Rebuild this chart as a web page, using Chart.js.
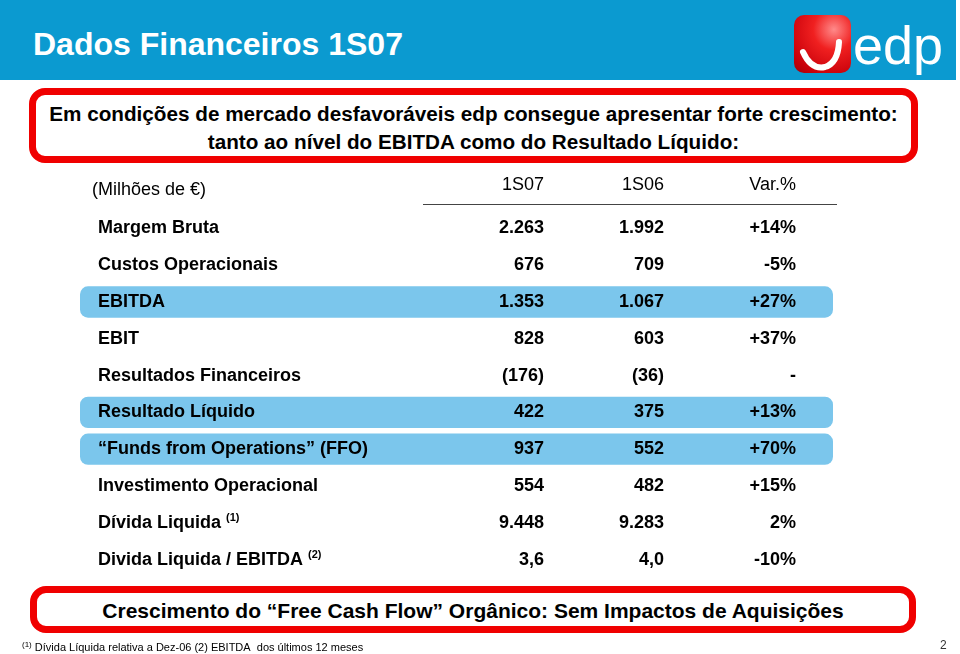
<!DOCTYPE html>
<html>
<head>
<meta charset="utf-8">
<script src="https://cdn.jsdelivr.net/npm/chart.js@4.4.0/dist/chart.umd.min.js"></script>
<style>
	body { margin: 0; background: #fff; font-family: "Liberation Sans", Arial, sans-serif; }
	#page { position: relative; width: 960px; height: 654px; overflow: hidden; }
	#mycanvas { position: absolute; left: 0; top: 0; }
	.t { position: absolute; line-height: 0; white-space: nowrap; }
	.topbar { position: absolute; left: 0; top: 0; width: 956px; height: 80px; background: #0B9AD0; }
	.box { position: absolute; box-sizing: border-box; border: 7px solid #F00000; border-radius: 16px; background: #fff; }
	.logo { position: absolute; left: 794px; top: 15px; width: 57px; height: 58px; border-radius: 10px;
		background: radial-gradient(circle at 70% 25%, #ff8a8a 0%, #f02020 35%, #c8000a 80%, #a00008 100%); }
	sup { font-size: 8px; vertical-align: 0; position: relative; top: -4px; }
</style>
</head>
<body>
<div id="page">
	<canvas id="mycanvas" width="960" height="654"></canvas>

	<div class="topbar"></div>
	<div class="t" style="left:33px;top:44px;color:#fff;font-weight:bold;font-size:32px;">Dados Financeiros 1S07</div>
	<div class="logo"></div>
	<svg style="position:absolute;left:0;top:0" width="960" height="80">
		<path d="M803 52 Q811 70 825 67 Q838 63 839 42" fill="none" stroke="#fff" stroke-width="6" stroke-linecap="round"/>
	</svg>
	<div class="t" style="left:853px;top:45px;color:#fff;font-size:54px;">edp</div>

	<div class="box" style="left:29px;top:88px;width:889px;height:75px;"></div>
	<div class="t" style="left:29px;width:889px;text-align:center;top:114px;font-weight:bold;font-size:20.7px;">Em condições de mercado desfavoráveis edp consegue apresentar forte crescimento:</div>
	<div class="t" style="left:29px;width:889px;text-align:center;top:142px;font-weight:bold;font-size:20.7px;">tanto ao nível do EBITDA como do Resultado Líquido:</div>

	<div class="box" style="left:30px;top:586px;width:886px;height:47px;"></div>
	<div class="t" style="left:30px;width:886px;text-align:center;top:611px;font-weight:bold;font-size:21px;">Crescimento do “Free Cash Flow” Orgânico: Sem Impactos de Aquisições</div>

	<div class="t" style="left:22px;top:647px;font-size:11px;"><sup>(1)</sup> Dívida Líquida relativa a Dez-06 (2) EBITDA&nbsp; dos últimos 12 meses</div>
	<div class="t" style="left:940px;top:645px;font-size:12px;color:#333;">2</div>
</div>

<script>
// linhas da tabela (Milhões de €)
var rowLabels = ['Margem Bruta', 'Custos Operacionais', 'EBITDA', 'EBIT', 'Resultados Financeiros',
	'Resultado Líquido', '“Funds from Operations” (FFO)', 'Investimento Operacional',
	'Dívida Liquida', 'Divida Liquida / EBITDA'];
var rowNotes = ['', '', '', '', '', '', '', '', '(1)', '(2)'];
var columnLabels = ['1S07', '1S06', 'Var.%'];
var values1S07 = [2263, 676, 1353, 828, -176, 422, 937, 554, 9448, 3.6];
var values1S06 = [1992, 709, 1067, 603, -36, 375, 552, 482, 9283, 4.0];
var varLabels = ['+14%', '-5%', '+27%', '+37%', '-', '+13%', '+70%', '+15%', '2%', '-10%'];
var highlightRows = ['EBITDA', 'Resultado Líquido', '“Funds from Operations” (FFO)'];
var unitLabel = '(Milhões de €)';

function fmt(v, i) {
	var dec = (i == rowLabels.length - 1) ? 1 : 0;
	var s = Math.abs(v).toLocaleString('de-DE', {minimumFractionDigits: dec, maximumFractionDigits: dec});
	return v < 0 ? '(' + s + ')' : s;
}

var colRight = [544, 664, 796];
var font = '"Liberation Sans", Arial, sans-serif';

var tablePlugin = {
	id: 'tableText',
	afterDatasetsDraw: function(chart) {
		var ctx = chart.ctx;
		var y = chart.scales.y;
		ctx.save();
		ctx.fillStyle = '#000';
		ctx.textBaseline = 'middle';

		// cabeçalho
		ctx.font = '18px ' + font;
		ctx.textAlign = 'left';
		ctx.fillText(unitLabel, 92, 190);
		ctx.textAlign = 'right';
		for (var c = 0; c < columnLabels.length; c++) {
			ctx.fillText(columnLabels[c], colRight[c], 185);
		}
		ctx.strokeStyle = '#444';
		ctx.lineWidth = 1;
		ctx.beginPath();
		ctx.moveTo(423, 204.5);
		ctx.lineTo(837, 204.5);
		ctx.stroke();

		for (var i = 0; i < rowLabels.length; i++) {
			var py = y.getPixelForValue(i);
			ctx.font = 'bold 18px ' + font;
			ctx.textAlign = 'left';
			ctx.fillText(rowLabels[i], 98, py);
			if (rowNotes[i]) {
				var w = ctx.measureText(rowLabels[i] + ' ').width;
				ctx.font = 'bold 11px ' + font;
				ctx.fillText(rowNotes[i], 98 + w, py - 5);
				ctx.font = 'bold 18px ' + font;
			}
			ctx.textAlign = 'right';
			ctx.fillText(fmt(values1S07[i], i), colRight[0], py);
			ctx.fillText(fmt(values1S06[i], i), colRight[1], py);
			ctx.fillText(varLabels[i], colRight[2], py);
		}
		ctx.restore();
	}
};

var ctx = document.getElementById('mycanvas');
var tableChart = new Chart(ctx, {
	type: 'bar',
	data: {
		labels: rowLabels,
		datasets: [{
			data: rowLabels.map(function(r) { return highlightRows.indexOf(r) >= 0 ? [0, 1] : null; }),
			backgroundColor: '#7BC6EC',
			borderRadius: 8,
			borderSkipped: false,
			barPercentage: 0.85,
			categoryPercentage: 1
		}]
	},
	options: {
		indexAxis: 'y',
		responsive: false,
		animation: false,
		layout: { padding: { left: 80, right: 127, top: 210, bottom: 76 } },
		scales: {
			x: { type: 'linear', min: 0, max: 1, display: false },
			y: { type: 'category', display: false }
		},
		plugins: { legend: { display: false }, tooltip: { enabled: false } }
	},
	plugins: [tablePlugin]
});
</script>
</body>
</html>
